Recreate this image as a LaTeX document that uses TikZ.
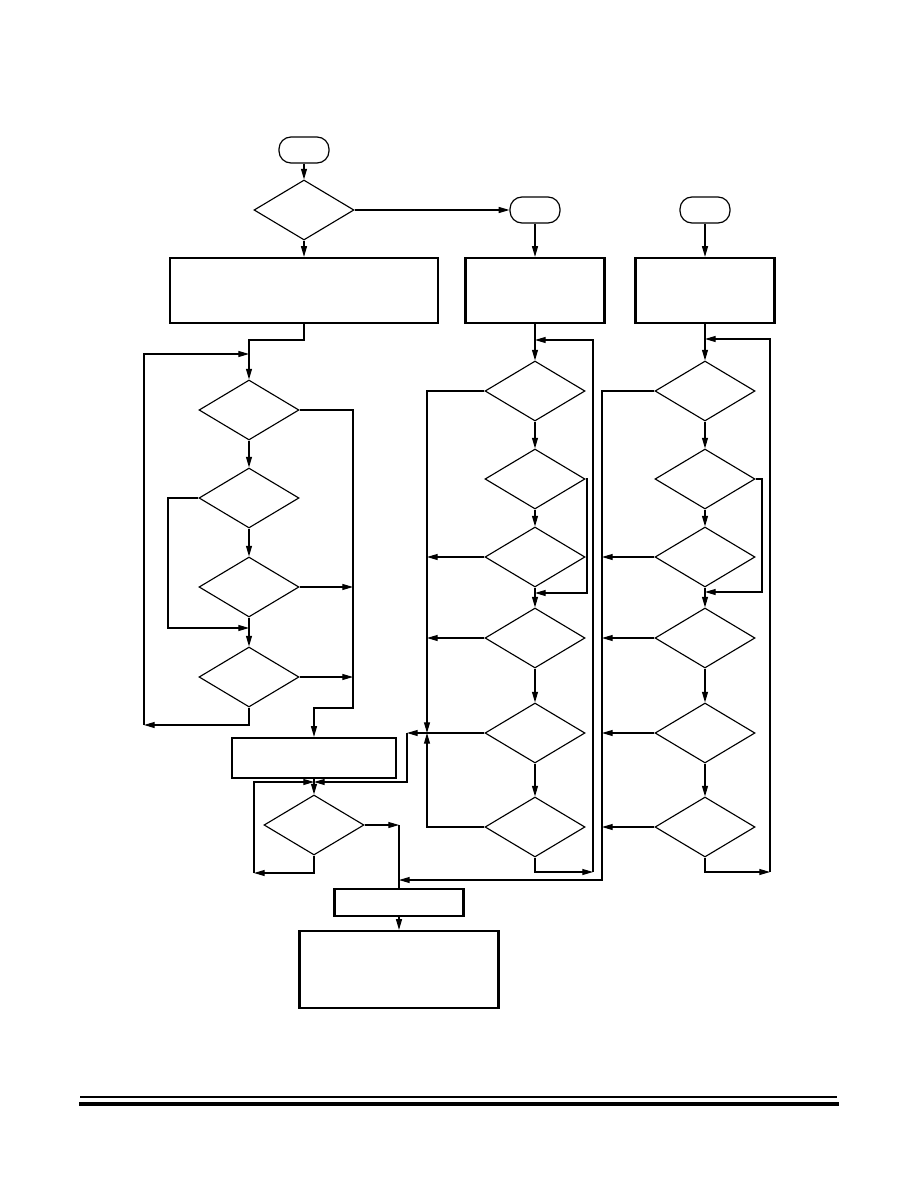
\documentclass[tikz,border=0pt]{standalone}
\usepackage{tikz}
\usetikzlibrary{arrows.meta,shapes.geometric}
\definecolor{ink}{HTML}{000000}
\tikzset{
  >={Triangle[length=8pt,width=4.5pt]},
  decision/.style={diamond,draw=ink,line width=.85pt,minimum width=75pt,minimum height=45pt,inner sep=0pt},
  terminal/.style={draw=ink,rounded corners=9pt,line width=.9pt,minimum width=37.5pt,minimum height=19.5pt,inner sep=0pt},
  process/.style={draw=ink,line width=1.7pt,inner sep=0pt},
  flow/.style={->,line width=.8pt,color=ink},
  wire/.style={line width=.8pt,color=ink},
}

\begin{document}
\begin{tikzpicture}[x=0.75pt,y=-0.75pt]
  \useasboundingbox (0,0) rectangle (918,1188);

  % entry points and first tasks
  \node[terminal] (startA) at (304,150) {};
  \node[decision] (qA) at (304,210) {};
  \node[process,minimum width=201pt,minimum height=48.75pt] (taskA) at (304,290.5) {};
  \node[terminal] (startB) at (535,210) {};
  \node[process,minimum width=104.25pt,minimum height=48.75pt] (taskB) at (535,290.5) {};
  \node[terminal] (startC) at (705,210) {};
  \node[process,minimum width=104.25pt,minimum height=48.75pt] (taskC) at (705,290.5) {};

  % decision columns
  \foreach \n/\y in {1/410,2/498,3/587,4/677}
    \node[decision] (a\n) at (249,\y) {};
  \foreach \n/\y in {1/391,2/479,3/557,4/638,5/733,6/827} {
    \node[decision] (b\n) at (535,\y) {};
    \node[decision] (c\n) at (705,\y) {};
  }

  % lower tasks
  \node[process,minimum width=123pt,minimum height=30pt] (taskD) at (314,758) {};
  \node[decision] (a5) at (314,825) {};
  \node[process,minimum width=96.75pt,minimum height=20.25pt] (taskE) at (399,902.5) {};
  \node[process,minimum width=149.25pt,minimum height=57.75pt] (taskF) at (399,969.5) {};

  % bends
  \coordinate (mA) at (304,340);
  \coordinate (inA) at (249,354);
  \coordinate (loopA) at (144,725);
  \coordinate (loopB) at (168,628);
  \coordinate (railA) at (353,708);
  \coordinate (inD) at (314,782);
  \coordinate (loopD) at (254,873);
  \coordinate (joinB) at (427,733);
  \coordinate (bendD) at (407,733);
  \coordinate (loopE) at (587,593);
  \coordinate (railB) at (593,872);
  \coordinate (inB) at (535,340);
  \coordinate (railC) at (602,880);
  \coordinate (loopF) at (762,592);
  \coordinate (railD) at (770,872);
  \coordinate (inC) at (705,339);
  \coordinate (mE) at (399,825);

  % straight runs
  \draw[flow] (startA.south) -- (qA.north);
  \draw[flow] (qA.south) -- (taskA.north);
  \draw[flow] (qA.east) -- (startB.west);
  \draw[flow] (startB.south) -- (taskB.north);
  \draw[flow] (startC.south) -- (taskC.north);
  \draw[flow] (taskB.south) -- (b1.north);
  \draw[flow] (taskC.south) -- (c1.north);
  \foreach \i/\j in {a1/a2,a2/a3,a3/a4,b1/b2,b2/b3,b3/b4,b4/b5,b5/b6,c1/c2,c2/c3,c3/c4,c4/c5,c5/c6}
    \draw[flow] (\i.south) -- (\j.north);

  % left column
  \draw[flow] (taskA.south) -- (mA) -| (a1.north);
  \draw[flow] (a4.south) |- (loopA);
  \draw[flow] (loopA) |- (inA);
  \draw[flow] (a2.west) -| (loopB) -- (loopB -| a4.north);
  \draw[flow] (a1.east) -| (railA) -| (taskD.north);
  \draw[flow] (a3.east) -- (a3.east -| railA);
  \draw[flow] (a4.east) -- (a4.east -| railA);

  % second column
  \draw[flow] (b1.west) -| (joinB);
  \draw[flow] (b6.west) -| (joinB);
  \draw[wire] (b5.west) -- (joinB);
  \draw[flow] (joinB) -- (bendD);
  \draw[flow] (b3.west) -- (b3.west -| joinB);
  \draw[flow] (b4.west) -- (b4.west -| joinB);
  \draw[flow] (b2.east) -| (loopE) -- (loopE -| b4.north);
  \draw[flow] (b6.south) |- (railB);
  \draw[flow] (railB) |- (inB);

  % third column
  \draw[flow] (c1.west) -| (railC) -- (railC -| taskE.north);
  \foreach \n in {3,4,5,6}
    \draw[flow] (c\n.west) -- (c\n.west -| railC);
  \draw[flow] (c2.east) -| (loopF) -- (loopF -| c4.north);
  \draw[flow] (c6.south) |- (railD);
  \draw[flow] (railD) |- (inC);

  % merge and exit
  \draw[flow] (taskD.south) -- (a5.north);
  \draw[flow] (bendD) |- (inD);
  \draw[flow] (a5.south) |- (loopD);
  \draw[flow] (loopD) |- (inD);
  \draw[flow] (a5.east) -- (mE);
  \draw[wire] (mE) -- (taskE.north);
  \draw[flow] (taskE.south) -- (taskF.north);

  % page rules
  \draw[line width=.8pt] (80,1097) -- (837,1097);
  \draw[line width=3pt] (79,1104) -- (839,1104);
\end{tikzpicture}
\end{document}
